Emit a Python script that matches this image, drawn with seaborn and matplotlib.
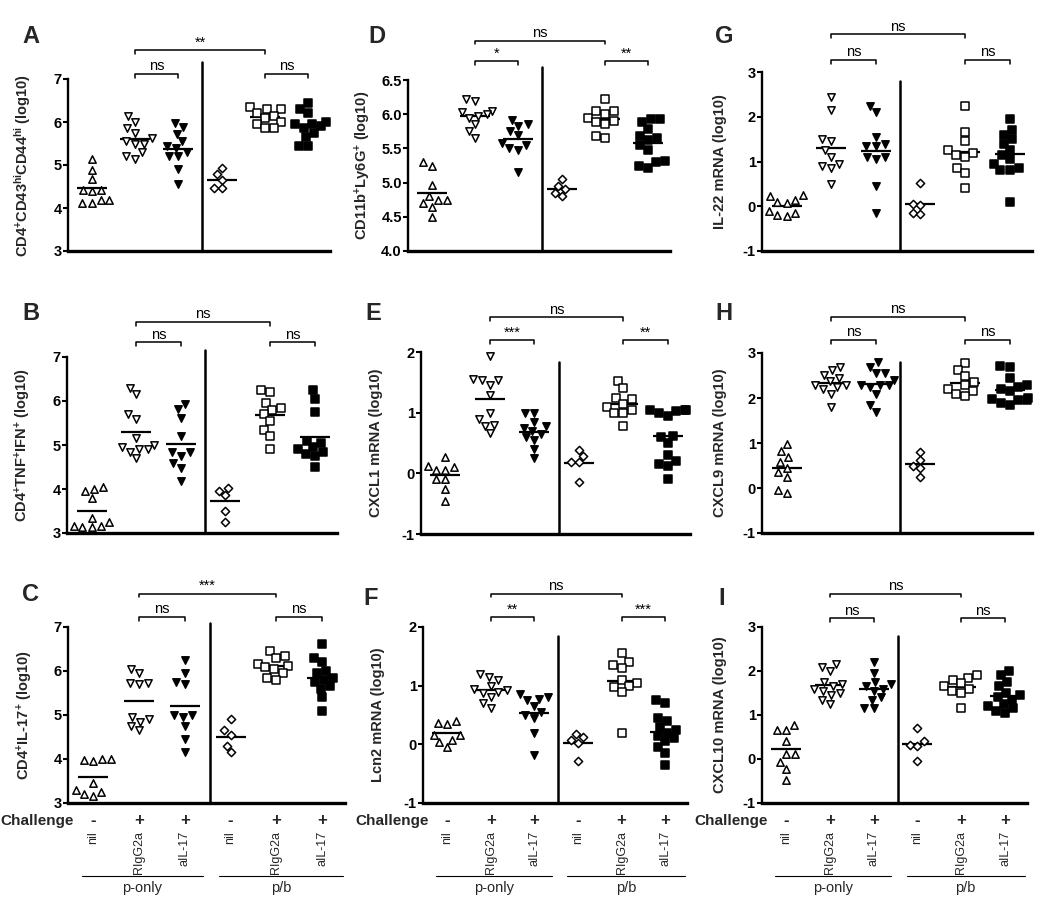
import matplotlib
matplotlib.use("Agg")
import matplotlib.pyplot as plt
import pandas as pd
import seaborn as sns
from matplotlib import font_manager

sns.set_theme(style="ticks")
names = {f.name for f in font_manager.fontManager.ttflist}
font = "Liberation Sans Narrow" if "Liberation Sans Narrow" in names else "Liberation Sans"
plt.rcParams["font.family"] = [font, "DejaVu Sans"]
plt.rcParams["mathtext.fontset"] = "custom"
plt.rcParams["mathtext.rm"] = font + ":bold"
plt.rcParams["mathtext.it"] = font + ":bold"
plt.rcParams["mathtext.bf"] = font + ":bold"

# groups, left to right
groups = ["nil_p", "rig_p", "ail_p", "nil_pb", "rig_pb", "ail_pb"]
group_names = ["nil", "RIgG2a", "aIL-17", "nil", "RIgG2a", "aIL-17"]
challenge = ["-", "+", "+", "-", "+", "+"]
markers = ["^", "v", "v", "D", "s", "s"]
fills = ["white", "white", "black", "white", "white", "black"]

a_vals = [[5.15, 4.88, 4.67, 4.42, 4.42, 4.40, 4.18, 4.12, 4.12, 4.18],
          [6.13, 6.0, 5.85, 5.75, 5.62, 5.55, 5.5, 5.48, 5.3, 5.2, 5.15],
          [5.97, 5.88, 5.72, 5.55, 5.45, 5.4, 5.3, 5.22, 5.2, 4.9, 4.55],
          [4.94, 4.78, 4.65, 4.47, 4.47],
          [6.35, 6.3, 6.3, 6.2, 6.15, 6.1, 6.0, 5.95, 5.85, 5.85],
          [6.45, 6.3, 6.2, 6.0, 5.95, 5.95, 5.9, 5.85, 5.75, 5.65, 5.45, 5.45]]
b_vals = [[4.05, 4.0, 3.95, 3.8, 3.35, 3.25, 3.15, 3.15, 3.13, 3.13],
          [6.3, 6.15, 5.7, 5.6, 5.15, 5.0, 4.95, 4.9, 4.85, 4.9, 4.7],
          [5.94, 5.81, 5.62, 5.2, 4.83, 4.83, 4.76, 4.58, 4.47, 4.19],
          [4.03, 3.95, 3.87, 3.5, 3.25],
          [6.25, 6.2, 5.95, 5.85, 5.8, 5.7, 5.55, 5.35, 5.2, 4.9],
          [6.25, 6.05, 5.75, 5.1, 5.05, 4.95, 4.9, 4.85, 4.8, 4.75, 4.5]]
c_vals = [[4.0, 4.0, 3.97, 3.95, 3.45, 3.3, 3.25, 3.2, 3.15],
          [6.05, 5.95, 5.72, 5.72, 5.7, 4.95, 4.9, 4.85, 4.75, 4.65],
          [6.25, 5.95, 5.75, 5.7, 5.0, 5.0, 4.95, 4.75, 4.45, 4.15],
          [4.9, 4.65, 4.55, 4.3, 4.15],
          [6.45, 6.35, 6.3, 6.15, 6.12, 6.1, 6.05, 5.95, 5.85, 5.8],
          [6.62, 6.3, 6.2, 6.0, 5.95, 5.85, 5.8, 5.75, 5.65, 5.6, 5.4, 5.1]]
d_vals = [[5.3, 5.25, 4.97, 4.8, 4.75, 4.75, 4.7, 4.65, 4.5],
          [6.22, 6.2, 6.05, 6.03, 6.0, 5.98, 5.95, 5.85, 5.75, 5.65],
          [5.92, 5.85, 5.83, 5.75, 5.7, 5.58, 5.55, 5.5, 5.48, 5.15],
          [5.05, 4.95, 4.9, 4.85, 4.8],
          [6.22, 6.05, 6.05, 6.0, 5.95, 5.9, 5.88, 5.85, 5.68, 5.65],
          [5.93, 5.93, 5.88, 5.78, 5.68, 5.65, 5.62, 5.55, 5.48, 5.32, 5.3, 5.25, 5.22]]
e_vals = [[0.27, 0.12, 0.1, 0.05, 0.05, -0.1, -0.1, -0.25, -0.45],
          [1.93, 1.55, 1.54, 1.54, 1.46, 1.29, 0.99, 0.9, 0.8, 0.78, 0.66],
          [1.0, 1.0, 0.85, 0.78, 0.75, 0.7, 0.65, 0.6, 0.55, 0.4, 0.25],
          [0.38, 0.28, 0.18, 0.18, -0.15],
          [1.52, 1.4, 1.25, 1.22, 1.15, 1.1, 1.05, 1.0, 1.0, 0.78],
          [1.05, 1.05, 1.05, 1.02, 1.0, 0.95, 0.62, 0.6, 0.5, 0.3, 0.2, 0.15, 0.12, -0.1]]
f_vals = [[0.39, 0.37, 0.35, 0.16, 0.16, 0.08, 0.04, -0.05],
          [1.2, 1.15, 1.1, 1.0, 0.95, 0.92, 0.9, 0.88, 0.8, 0.7, 0.62],
          [0.85, 0.8, 0.78, 0.75, 0.65, 0.55, 0.5, 0.45, 0.2, -0.18],
          [0.18, 0.12, 0.08, 0.02, -0.28],
          [1.55, 1.4, 1.35, 1.3, 1.1, 1.05, 1.0, 0.98, 0.9, 0.2],
          [0.75, 0.7, 0.45, 0.4, 0.3, 0.25, 0.2, 0.15, 0.1, 0.05, -0.05, -0.15, -0.35]]
g_vals = [[0.25, 0.22, 0.15, 0.1, 0.08, -0.1, -0.15, -0.2, -0.22],
          [2.45, 2.15, 1.5, 1.45, 1.25, 1.1, 0.95, 0.9, 0.85, 0.5],
          [2.25, 2.1, 1.55, 1.4, 1.35, 1.35, 1.1, 1.1, 1.05, 0.45, -0.15],
          [0.52, 0.05, 0.02, -0.15, -0.18],
          [2.25, 1.65, 1.45, 1.25, 1.2, 1.15, 1.1, 0.85, 0.75, 0.4],
          [1.95, 1.7, 1.6, 1.5, 1.4, 1.25, 1.15, 1.05, 0.95, 0.85, 0.8, 0.8, 0.1]]
h_vals = [[0.98, 0.82, 0.68, 0.58, 0.45, 0.35, 0.25, -0.05, -0.1],
          [2.7, 2.62, 2.52, 2.45, 2.38, 2.3, 2.28, 2.25, 2.2, 2.1, 1.8],
          [2.8, 2.7, 2.55, 2.55, 2.4, 2.3, 2.3, 2.28, 2.25, 2.1, 1.85, 1.7],
          [0.8, 0.62, 0.5, 0.45, 0.25],
          [2.78, 2.62, 2.5, 2.35, 2.3, 2.2, 2.15, 2.1, 2.05],
          [2.72, 2.7, 2.45, 2.3, 2.25, 2.2, 2.15, 2.0, 1.98, 1.95, 1.95, 1.9, 1.85]]
i_vals = [[0.77, 0.66, 0.67, 0.41, 0.11, 0.11, -0.06, -0.22, -0.48],
          [2.15, 2.1, 2.0, 1.75, 1.7, 1.65, 1.6, 1.55, 1.5, 1.45, 1.35, 1.25],
          [2.2, 1.95, 1.75, 1.7, 1.65, 1.6, 1.55, 1.4, 1.35, 1.15, 1.15],
          [0.7, 0.4, 0.32, 0.3, -0.05],
          [1.9, 1.85, 1.8, 1.72, 1.65, 1.6, 1.55, 1.5, 1.15],
          [2.0, 1.9, 1.75, 1.65, 1.5, 1.45, 1.4, 1.35, 1.25, 1.2, 1.15, 1.1, 1.05]]

ticks_cd4 = [3, 4, 5, 6, 7]
ticks_d = [4.0, 4.5, 5.0, 5.5, 6.0, 6.5]
ticks_mrna2 = [-1, 0, 1, 2]
ticks_mrna3 = [-1, 0, 1, 2, 3]

# letter, values, ylabel, yticks, tick fmt, stars (big, left, right),
# box px (left, right, top, bottom), letter px, ylabel x px, divider top, bracket y
panels = [
    ("A", a_vals, r"CD4$^{+}$CD43$^{hi}$CD44$^{hi}$ (log10)", ticks_cd4, "%g",
     ("**", "ns", "ns"), (68, 330, 79, 251), (22, 25), 33, 7.4, (1.17, 1.03)),
    ("B", b_vals, r"CD4$^{+}$TNF$^{+}$IFN$^{+}$ (log10)", ticks_cd4, "%g",
     ("ns", "ns", "ns"), (67, 337, 357, 533), (22, 302), 33, 7.15, (1.2, 1.085)),
    ("C", c_vals, r"CD4$^{+}$IL-17$^{+}$ (log10)", ticks_cd4, "%g",
     ("***", "ns", "ns"), (68, 345, 627, 803), (22, 583), 35, 7.1, (1.19, 1.057)),
    ("D", d_vals, r"CD11b$^{+}$Ly6G$^{+}$ (log10)", ticks_d, "%.1f",
     ("ns", "*", "**"), (408, 670, 80, 251), (368, 25), 373, 6.69, (1.23, 1.11)),
    ("E", e_vals, "CXCL1 mRNA (log10)", ticks_mrna2, "%g",
     ("ns", "***", "**"), (421, 690, 352, 534), (365, 302), 383, 1.83, (1.19, 1.066)),
    ("F", f_vals, "Lcn2 mRNA (log10)", ticks_mrna2, "%g",
     ("ns", "**", "***"), (423, 687, 627, 803), (363, 587), 385, 1.85, (1.19, 1.057)),
    ("G", g_vals, "IL-22 mRNA (log10)", ticks_mrna3, "%g",
     ("ns", "ns", "ns"), (762, 1032, 72, 251), (715, 25), 727, 2.8, (1.21, 1.067)),
    ("H", h_vals, "CXCL9 mRNA (log10)", ticks_mrna3, "%g",
     ("ns", "ns", "ns"), (762, 1032, 353, 533), (715, 302), 727, 2.8, (1.2, 1.072)),
    ("I", i_vals, "CXCL10 mRNA (log10)", ticks_mrna3, "%g",
     ("ns", "ns", "ns"), (762, 1027, 627, 803), (718, 587), 727, 2.8, (1.19, 1.05)),
]

W, H = 1050, 915
fig = plt.figure(figsize=(10.5, 9.15), dpi=100)
fig.patch.set_facecolor("white")


def bracket(ax, x0, x1, y, label):
    tr = ax.get_xaxis_transform()
    ax.plot([x0, x0, x1, x1], [y - 0.022, y, y, y - 0.022], transform=tr,
            color="black", lw=1.1, clip_on=False)
    ax.text((x0 + x1) / 2, y + 0.02, label, transform=tr, ha="center",
            va="baseline", fontsize=10.5, color="black")


for letter, vals, ylabel, yticks, fmt, stars, box, lpos, ylx, divtop, by in panels:
    l, r, t, b = box
    ax = fig.add_axes([l / W, 1 - b / H, (r - l) / W, (b - t) / H])
    ax.set_facecolor("white")
    df = pd.DataFrame([(g, v) for g, vs in zip(groups, vals) for v in vs],
                      columns=["group", "value"])

    for g, m, fc in zip(groups, markers, fills):
        sns.swarmplot(data=df[df["group"] == g], x="group", y="value", order=groups,
                      marker=m, color=fc, edgecolor="black", linewidth=1.1,
                      size=4.2 if m == "D" else 5.3, ax=ax)
    sns.pointplot(data=df, x="group", y="value", order=groups, estimator="mean",
                  errorbar=None, color="black", markers="_", linestyles="none",
                  markersize=21, markeredgewidth=1.6, ax=ax)

    ax.set_xlim(-0.55, 5.5)
    ax.set_ylim(yticks[0], yticks[-1])
    ax.set_yticks(yticks)
    ax.set_yticklabels([fmt % v for v in yticks])
    ax.set_xticks([])
    ax.set_xlabel("")
    ax.set_ylabel(ylabel, fontsize=10.5, fontweight="bold")
    ax.yaxis.set_label_coords((ylx - l) / (r - l), 0.5)
    sns.despine(ax=ax)
    ax.spines["left"].set_linewidth(1.7)
    ax.spines["bottom"].set_linewidth(2.4)
    ax.spines["left"].set_color("black")
    ax.spines["bottom"].set_color("black")
    ax.tick_params(axis="y", length=3.5, width=1.5, labelsize=10.5, pad=1,
                   colors="black")
    for lab in ax.get_yticklabels():
        lab.set_fontweight("bold")

    # divider between p-only and p/b
    ax.plot([2.55, 2.55], [yticks[0], divtop], color="black", lw=1.8,
            clip_on=False, zorder=1)

    bracket(ax, 1, 4, by[0], stars[0])
    bracket(ax, 1, 2, by[1], stars[1])
    bracket(ax, 4, 5, by[1], stars[2])

    fig.text(lpos[0] / W, 1 - lpos[1] / H, letter, ha="left", va="top",
             fontsize=17, fontweight="bold", family="Liberation Sans")

    if letter in ("C", "F", "I"):
        hgt = b - t
        tr = ax.get_xaxis_transform()
        ax.text(0.02, -18 / hgt, "Challenge", transform=ax.transAxes, ha="right",
                va="center", fontsize=11, fontweight="bold")
        for k in range(6):
            ax.text(k, -17 / hgt, challenge[k], transform=tr, ha="center",
                    va="center", fontsize=12, fontweight="bold")
            ax.text(k, -28 / hgt, group_names[k], transform=tr, ha="center",
                    va="top", rotation=90, fontsize=9)
        for x0, x1, name in ((-0.25, 2.4, "p-only"), (2.75, 5.45, "p/b")):
            ax.plot([x0, x1], [-73 / hgt, -73 / hgt], transform=tr, color="black",
                    lw=0.8, clip_on=False)
            ax.text((x0 + x1) / 2, -85 / hgt, name, transform=tr, ha="center",
                    va="center", fontsize=10.5)

fig.savefig("out.png", dpi=100, facecolor="white")
